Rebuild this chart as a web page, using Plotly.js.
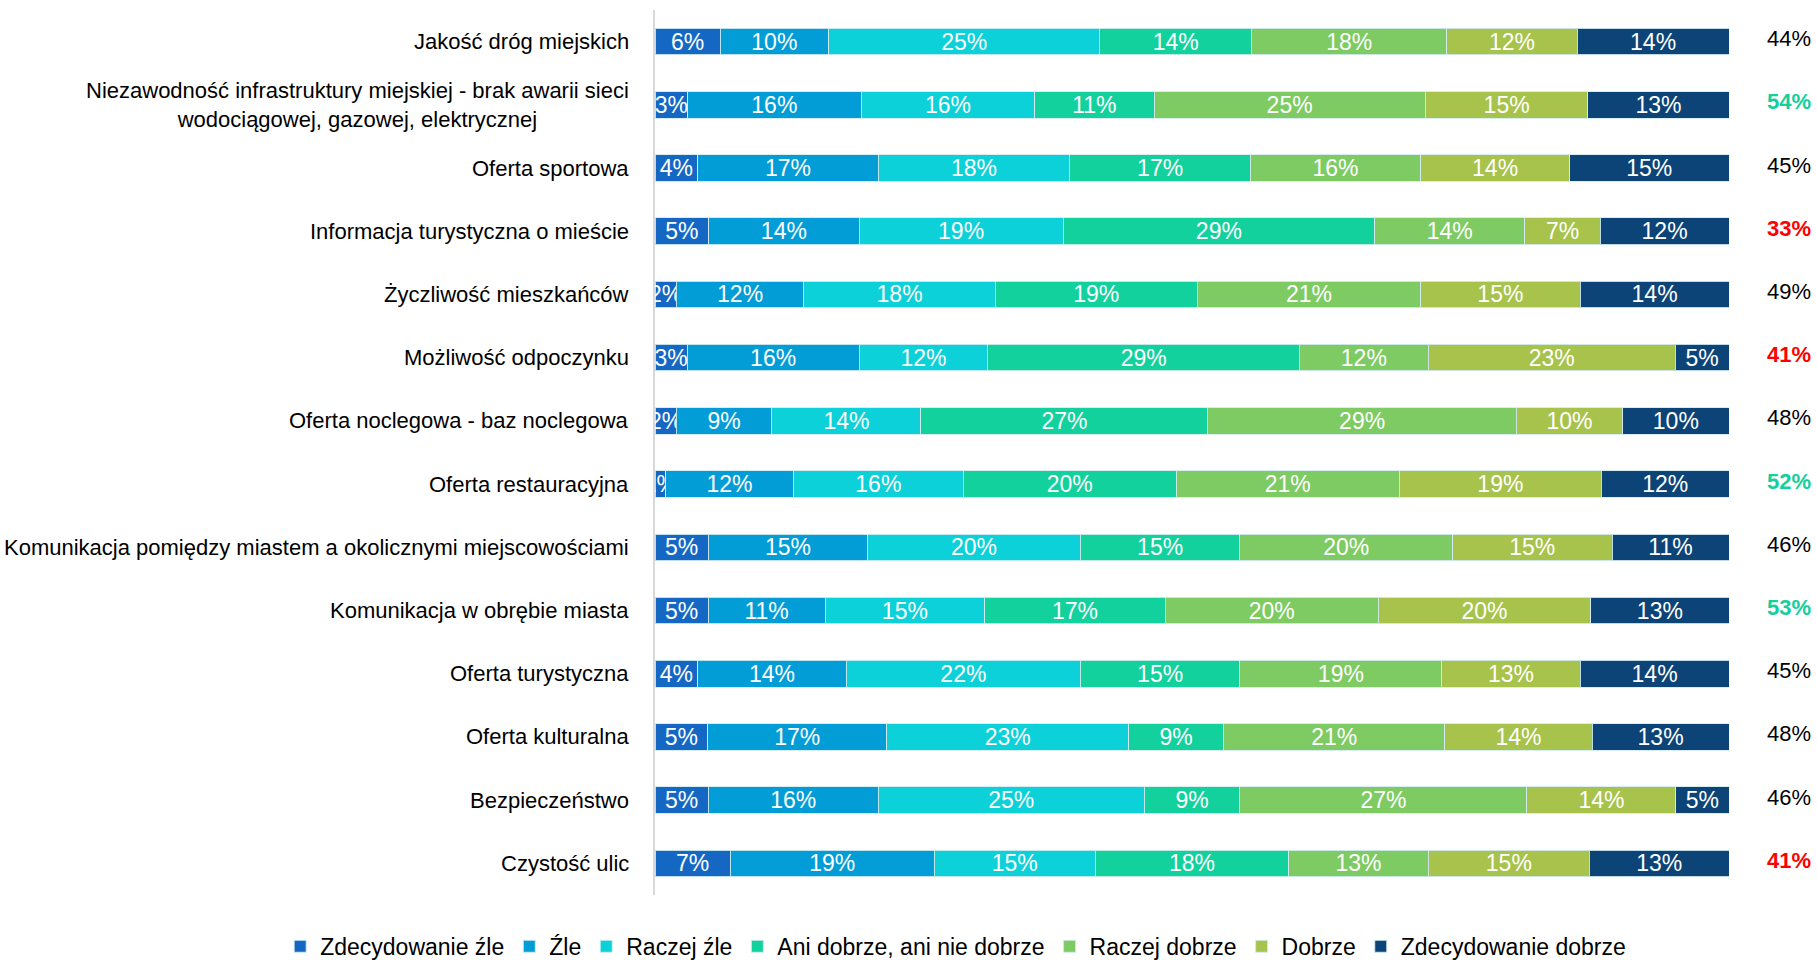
<!DOCTYPE html>
<html>
<head>
<meta charset="utf-8">
<script src="https://cdn.plot.ly/plotly-3.0.1.min.js"></script>
<style>html,body{margin:0;padding:0;background:#fff;}#chart{width:1817px;height:960px;}</style>
</head>
<body>
<div id="chart"></div>
<script>
const categories = [
  "Jakość dróg miejskich",
  "Niezawodność infrastruktury miejskiej - brak awarii sieci<br>wodociągowej, gazowej, elektrycznej",
  "Oferta sportowa",
  "Informacja turystyczna o mieście",
  "Życzliwość mieszkańców",
  "Możliwość odpoczynku",
  "Oferta noclegowa - baz noclegowa",
  "Oferta restauracyjna",
  "Komunikacja pomiędzy miastem a okolicznymi miejscowościami",
  "Komunikacja w obrębie miasta",
  "Oferta turystyczna",
  "Oferta kulturalna",
  "Bezpieczeństwo",
  "Czystość ulic"
];
const seriesNames = ["Zdecydowanie źle","Źle","Raczej źle","Ani dobrze, ani nie dobrze","Raczej dobrze","Dobrze","Zdecydowanie dobrze"];
const zdecydowanieZle   = [6, 3, 4, 5, 2, 3, 2, 1, 5, 5, 4, 5, 5, 7];
const zle               = [10,16,17,14,12,16, 9,12,15,11,14,17,16,19];
const raczejZle         = [25,16,18,19,18,12,14,16,20,15,22,23,25,15];
const aniDobrze         = [14,11,17,29,19,29,27,20,15,17,15, 9, 9,18];
const raczejDobrze      = [18,25,16,14,21,12,29,21,20,20,19,21,27,13];
const dobrze            = [12,15,14, 7,15,23,10,19,15,20,13,14,14,15];
const zdecydowanieDobrze= [14,13,15,12,14, 5,10,12,11,13,14,13, 5,13];
const positiveShare     = [44,54,45,33,49,41,48,52,46,53,45,48,46,41];
const shareHighlight    = ["","high","","low","","low","","high","","high","","","","low"];

const seriesValues = [zdecydowanieZle, zle, raczejZle, aniDobrze, raczejDobrze, dobrze, zdecydowanieDobrze];
const colors = ["#1468C4","#029DD7","#0CD1D9","#13D19C","#7DCB62","#A7C34B","#0C4477"];
const FONT = "'Liberation Sans',Arial,sans-serif";
const FS = 22;

const traces = seriesValues.map((vals, i) => ({
  type: "bar",
  orientation: "h",
  name: seriesNames[i],
  y: categories,
  x: vals,
  text: vals.map(v => v + "%"),
  textposition: "inside",
  insidetextanchor: "middle",
  textangle: 0,
  constraintext: "none",
  cliponaxis: true,
  textfont: {family: FONT, size: 23, color: "#ffffff"},
  marker: {color: colors[i], line: {color: "rgba(210,235,240,0.9)", width: 1}},
  hoverinfo: "skip"
}));

const annotations = [];
categories.forEach((c, i) => {
  annotations.push({
    xref: "paper", yref: "y", x: 0, y: c,
    xanchor: "right", yanchor: "middle", xshift: -24,
    text: c, showarrow: false, align: "center",
    font: {family: FONT, size: FS, color: "#000000"}
  });
  const hl = shareHighlight[i];
  const col = hl === "high" ? "#13CF9C" : (hl === "low" ? "#FF0000" : "#000000");
  const txt = positiveShare[i] + "%";
  annotations.push({
    xref: "paper", yref: "y", x: 1, y: c,
    xanchor: "right", yanchor: "middle", xshift: 84, yshift: 3,
    text: hl ? "<b>" + txt + "</b>" : txt, showarrow: false,
    font: {family: FONT, size: FS, color: col}
  });
});

const layout = {
  width: 1817, height: 960,
  margin: {l: 655, r: 88, t: 10, b: 65, autoexpand: false},
  barmode: "stack",
  barnorm: "percent",
  bargap: 0.58,
  paper_bgcolor: "#ffffff",
  plot_bgcolor: "#ffffff",
  font: {family: FONT, size: FS, color: "#000"},
  xaxis: {range: [0, 100], showgrid: false, zeroline: false, showticklabels: false, showline: false, fixedrange: true},
  yaxis: {autorange: "reversed", showticklabels: false, showgrid: false, zeroline: false,
          showline: true, linecolor: "#d9d9d9", linewidth: 2, ticks: ""},
  showlegend: true,
  legend: {orientation: "h", traceorder: "normal", xref: "paper", yref: "paper",
           x: -0.349, y: -0.058, xanchor: "left", yanchor: "middle",
           font: {family: FONT, size: 23, color: "#000"}, itemwidth: 30},
  annotations: annotations
};

Plotly.newPlot("chart", traces, layout, {displayModeBar: false, staticPlot: true});
</script>
</body>
</html>
